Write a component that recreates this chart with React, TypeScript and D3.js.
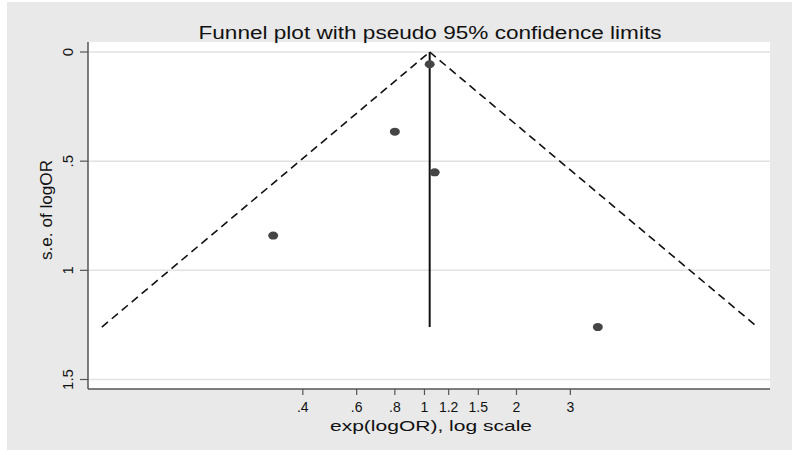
import React from "react";
import * as d3 from "d3";

const studyOR = [1.04, 0.8, 1.08, 0.32, 3.69];
const studySE = [0.056, 0.365, 0.551, 0.841, 1.26];
const pooledOR = 1.04;
const seMax = 1.26;
const xTicks = [0.4, 0.6, 0.8, 1, 1.2, 1.5, 2, 3];
const xTickLabels = [".4", ".6", ".8", "1", "1.2", "1.5", "2", "3"];
const yTicks = [0, 0.5, 1, 1.5];
const yTickLabels = ["0", ".5", "1", "1.5"];
const titleText = "Funnel plot with pseudo 95% confidence limits";
const xTitle = "exp(logOR), log scale";
const yTitle = "s.e. of logOR";

const W = 800;
const H = 455;
const plotL = 88;
const plotR = 770;
const plotT = 42;
const plotB = 389;
const font = "'Liberation Sans', Arial, sans-serif";

export default function App() {
  const x = d3.scaleLog().domain([0.0793, 13.5]).range([plotL, plotR]);
  const y = d3.scaleLinear().domain([0, 1.5]).range([52, 379.5]);
  const z = 1.96;
  const leftEnd = pooledOR * Math.exp(-z * seMax);
  const rightEnd = pooledOR * Math.exp(z * seMax);
  const line = d3
    .line<[number, number]>()
    .x((d) => x(d[0]))
    .y((d) => y(d[1]));
  const funnelL = line([
    [leftEnd, seMax],
    [pooledOR, 0],
  ]);
  const funnelR = line([
    [pooledOR, 0],
    [rightEnd, seMax],
  ]);
  const vline = line([
    [pooledOR, 0],
    [pooledOR, seMax],
  ]);

  return (
    <svg
      width={W}
      height={H}
      style={{ position: "absolute", left: 0, top: 0, background: "#fff" }}
      fontFamily={font}
    >
      <rect x={7} y={2} width={785} height={448} fill="#e9e9e9" />
      <rect x={plotL} y={plotT} width={plotR - plotL} height={plotB - plotT} fill="#fff" />
      {yTicks.map((t) => (
        <line
          key={"g" + t}
          x1={plotL}
          x2={plotR}
          y1={y(t)}
          y2={y(t)}
          stroke="#e2e2e2"
          strokeWidth={1.5}
        />
      ))}
      <line x1={plotL} x2={plotL} y1={plotT} y2={plotB} stroke="#555" strokeWidth={1.5} />
      <line x1={plotL} x2={plotR} y1={plotB} y2={plotB} stroke="#555" strokeWidth={1.5} />
      {yTicks.map((t, i) => (
        <g key={"yt" + t}>
          <line x1={plotL - 8} x2={plotL} y1={y(t)} y2={y(t)} stroke="#555" strokeWidth={1.2} />
          <text
            transform={`translate(73,${y(t)}) rotate(-90)`}
            textAnchor="middle"
            fontSize={15}
            fill="#111"
          >
            {yTickLabels[i]}
          </text>
        </g>
      ))}
      {xTicks.map((t, i) => (
        <g key={"xt" + t}>
          <line x1={x(t)} x2={x(t)} y1={plotB} y2={plotB + 6} stroke="#555" strokeWidth={1.2} />
          <text x={x(t)} y={412} textAnchor="middle" fontSize={14} fill="#111">
            {xTickLabels[i]}
          </text>
        </g>
      ))}
      <text
        x={430}
        y={39}
        textAnchor="middle"
        fontSize={18}
        textLength={463}
        lengthAdjust="spacingAndGlyphs"
        fill="#111"
      >
        {titleText}
      </text>
      <text
        x={431}
        y={431}
        textAnchor="middle"
        fontSize={15}
        textLength={202}
        lengthAdjust="spacingAndGlyphs"
        fill="#111"
      >
        {xTitle}
      </text>
      <text
        transform={`translate(52,210) rotate(-90)`}
        textAnchor="middle"
        fontSize={16}
        textLength={100}
        lengthAdjust="spacingAndGlyphs"
        fill="#111"
      >
        {yTitle}
      </text>
      <path d={funnelL ?? ""} fill="none" stroke="#111" strokeWidth={1.6} strokeDasharray="8,5" />
      <path d={funnelR ?? ""} fill="none" stroke="#111" strokeWidth={1.6} strokeDasharray="8,5" />
      <path d={vline ?? ""} fill="none" stroke="#111" strokeWidth={2} />
      {studyOR.map((or, i) => (
        <ellipse key={"p" + i} cx={x(or)} cy={y(studySE[i])} rx={5} ry={4} fill="#454545" />
      ))}
    </svg>
  );
}
